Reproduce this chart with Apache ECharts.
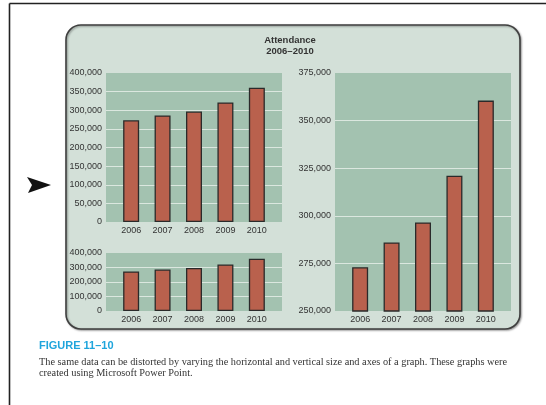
<!DOCTYPE html>
<html><head><meta charset="utf-8">
<script src="https://cdn.jsdelivr.net/npm/echarts@6/dist/echarts.min.js"></script>
<style>html,body{margin:0;padding:0;background:#fff}#c{width:546px;height:405px}</style>
</head><body><div id="c"></div>
<script>
const years = [2006, 2007, 2008, 2009, 2010];
const attendance = [273000, 286000, 296500, 321000, 360500];
const chartTitle = 'Attendance\n2006\u20132010';
const figureLabel = 'FIGURE 11\u201310';
const captionLines = [
  'The same data can be distorted by varying the horizontal and vertical size and axes of a graph. These graphs were',
  'created using Microsoft Power Point.'
];
const yTallMin = 0, yTallMax = 400000, yTallStep = 50000;
const yShortMin = 0, yShortMax = 400000, yShortStep = 100000;
const yZoomMin = 250000, yZoomMax = 375000, yZoomStep = 25000;

const pairs = years.map((y, i) => [y, attendance[i]]);
const PLOT = '#a3c2b0', PANEL = '#d3e0d8', BAR = '#b9614d', GRIDL = '#dbe7df';
const font = 'Liberation Sans, Arial, sans-serif';

function grid(left, top, width, height) {
  return {left, top, width, height, show: true, backgroundColor: PLOT, borderWidth: 0, containLabel: false};
}
function xAx(gi) {
  return {
    type: 'value', gridIndex: gi, min: 2005.2, max: 2010.8,
    axisLine: {show: false}, axisTick: {show: false}, splitLine: {show: false},
    axisLabel: {customValues: years, formatter: v => String(v), color: '#333', fontSize: 9, fontFamily: font, margin: 4}
  };
}
function yAx(gi, min, max, step) {
  return {
    type: 'value', gridIndex: gi, min, max, interval: step,
    axisLine: {show: false}, axisTick: {show: false},
    splitLine: {show: true, showMinLine: false, showMaxLine: false, lineStyle: {color: GRIDL, width: 1.2}},
    axisLabel: {color: '#333', fontSize: 9, fontFamily: font, margin: 4,
      formatter: v => v.toLocaleString('en-US')}
  };
}
function bars(gi) {
  return {
    type: 'bar', xAxisIndex: gi, yAxisIndex: gi, data: pairs, barWidth: 16,
    itemStyle: {color: BAR, borderColor: '#2a2a2a', borderWidth: 1.3},
    silent: true
  };
}

const chart = echarts.init(document.getElementById('c'), null, {renderer: 'canvas'});
chart.setOption({
  animation: false,
  backgroundColor: '#fff',
  grid: [grid(106, 73, 176, 149), grid(106, 253, 176, 58), grid(335, 73, 176, 238)],
  xAxis: [xAx(0), xAx(1), xAx(2)],
  yAxis: [yAx(0, yTallMin, yTallMax, yTallStep), yAx(1, yShortMin, yShortMax, yShortStep), yAx(2, yZoomMin, yZoomMax, yZoomStep)],
  series: [bars(0), bars(1), bars(2)],
  graphic: [
    {type: 'rect', z: -10, shape: {x: 66, y: 25, width: 454, height: 304, r: 15},
      style: {fill: PANEL, stroke: '#3f3f3f', lineWidth: 1.6, shadowBlur: 2, shadowOffsetX: 1, shadowOffsetY: 1, shadowColor: 'rgba(0,0,0,0.35)'}},
    {type: 'line', z: 5, shape: {x1: 9.5, y1: 3.5, x2: 546, y2: 3.5}, style: {stroke: '#222', lineWidth: 1.6}},
    {type: 'line', z: 5, shape: {x1: 9.5, y1: 3.5, x2: 9.5, y2: 405}, style: {stroke: '#222', lineWidth: 1.6}},
    {type: 'polygon', z: 5, shape: {points: [[27, 177], [51, 185], [28, 193], [32, 185]]}, style: {fill: '#111'}},
    {type: 'text', z: 5, x: 290, y: 35, style: {text: chartTitle, font: 'bold 9.5px ' + font, fill: '#333', textAlign: 'center', lineHeight: 10.7}},
    {type: 'text', z: 5, x: 39, y: 340.5, style: {text: figureLabel, font: 'bold 11px ' + font, fill: '#1fa5dc'}},
    {type: 'text', z: 5, x: 39, y: 356.5, style: {text: captionLines.join('\n'), font: '10.3px Liberation Serif, Times New Roman, serif', fill: '#333', lineHeight: 11}}
  ]
});
</script></body></html>
